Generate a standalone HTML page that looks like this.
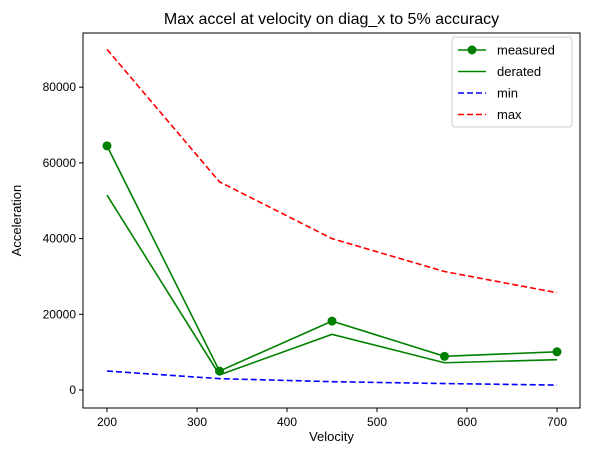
<!DOCTYPE html>
<html><head><meta charset="utf-8"><style>
body{margin:0;background:#fff}
text{font-family:"Liberation Sans","DejaVu Sans",sans-serif;fill:#000}
</style></head><body>
<svg id="chart" width="589" height="455" xmlns="http://www.w3.org/2000/svg"></svg>
<script>
const velocities=[200,325,450,575,700];
const measured=[64500,5000,18200,8900,10100];
const derated=[51500,4000,14700,7200,8000];
const minVals=[5000,3000,2200,1700,1300];
const maxVals=[90000,55000,40000,31300,25700];
const xTicks=[200,300,400,500,600,700];
const yTicks=[0,20000,40000,60000,80000];
const NS="http://www.w3.org/2000/svg";
const svg=document.getElementById('chart');
const L=83,R=580,T=33,B=408;
const sx=v=>107+(v-200)*0.9;
const sy=v=>390-v*(75.7/20000);
function mk(tag,attrs,parent){const e=document.createElementNS(NS,tag);for(const k in attrs)e.setAttribute(k,attrs[k]);(parent||svg).appendChild(e);return e;}
const title=mk('text',{x:(L+R)/2,y:24,'text-anchor':'middle','font-size':16});
title.textContent='Max accel at velocity on diag_x to 5% accuracy';


function series(vals,color,dash,name,markers){
  const pts=velocities.map((v,i)=>sx(v)+','+sy(vals[i])).join(' ');
  const p=mk('polyline',{points:pts,fill:'none',stroke:color,'stroke-width':1.6});
  if(dash)p.setAttribute('stroke-dasharray',dash);
  
  
  if(markers)velocities.forEach((v,i)=>{const c=mk('circle',{cx:sx(v),cy:sy(vals[i]),r:4.5,fill:color});
    
    });
}
series(measured,'#008000',null,'measured',true);
series(derated,'#008000',null,'derated',false);
series(minVals,'#0000ff','6,3','min',false);
series(maxVals,'#ff0000','6,3','max',false);
const frame=mk('rect',{x:L,y:T,width:R-L,height:B-T,fill:'none',stroke:'#000','stroke-width':1});


xTicks.forEach(t=>{mk('line',{x1:sx(t),x2:sx(t),y1:B,y2:B+4,stroke:'#000'});
  const tx=mk('text',{x:sx(t),y:B+18,'text-anchor':'middle','font-size':12});tx.textContent=t;
  
  });
yTicks.forEach(t=>{mk('line',{x1:L-4,x2:L,y1:sy(t),y2:sy(t),stroke:'#000'});
  const tx=mk('text',{x:L-7,y:sy(t)+4,'text-anchor':'end','font-size':12});tx.textContent=t;
  
  });
const xl=mk('text',{x:(L+R)/2,y:441,'text-anchor':'middle','font-size':13});xl.textContent='Velocity';


const yl=mk('text',{x:21,y:(T+B)/2,'text-anchor':'middle','font-size':13,transform:'rotate(-90 21 '+((T+B)/2)+')'});yl.textContent='Acceleration';


const lg=mk('g',{});


mk('rect',{x:452,y:37,width:120,height:90,rx:3,fill:'#fff',stroke:'#ccc'},lg);
[['measured','#008000',null,true],['derated','#008000',null,false],['min','#0000ff','6,3',false],['max','#ff0000','6,3',false]].forEach((e,i)=>{
  const y=50+i*21.5;
  const ln=mk('line',{x1:458,x2:486,y1:y,y2:y,stroke:e[1],'stroke-width':1.6},lg);
  if(e[2])ln.setAttribute('stroke-dasharray',e[2]);
  if(e[3])mk('circle',{cx:472,cy:y,r:4.5,fill:e[1]},lg);
  const t=mk('text',{x:497,y:y+4.5,'font-size':13},lg);t.textContent=e[0];
  
  
});
</script>
</body></html>
